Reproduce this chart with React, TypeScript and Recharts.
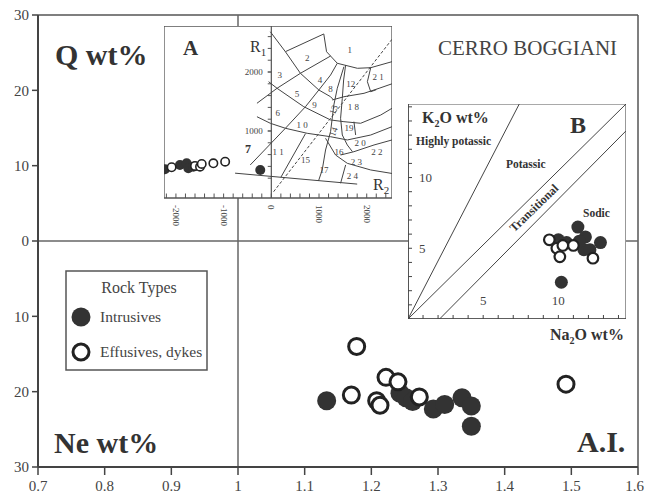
import {
  ScatterChart,
  Scatter,
  XAxis,
  YAxis,
  ReferenceLine,
  ReferenceArea,
  CartesianGrid,
} from "recharts";

const FONT = '"Liberation Serif", "Times New Roman", serif';
const INK = "#333";
const EDGE = "#555";

// ---- main diagram: A.I. vs normative Q / Ne
const aiTicks = [0.7, 0.8, 0.9, 1, 1.1, 1.2, 1.3, 1.4, 1.5, 1.6];
const normTicks = [-30, -20, -10, 0, 10, 20, 30];

const intrusives = [
  { ai: 1.133, q: -21.2 },
  { ai: 1.243, q: -20.2 },
  { ai: 1.252, q: -20.8 },
  { ai: 1.262, q: -21.3 },
  { ai: 1.293, q: -22.3 },
  { ai: 1.31, q: -21.7 },
  { ai: 1.336, q: -20.8 },
  { ai: 1.35, q: -21.9 },
  { ai: 1.35, q: -24.6 },
];
const effusives = [
  { ai: 1.178, q: -14.0 },
  { ai: 1.17, q: -20.45 },
  { ai: 1.208, q: -21.2 },
  { ai: 1.213, q: -21.8 },
  { ai: 1.222, q: -18.1 },
  { ai: 1.24, q: -18.7 },
  { ai: 1.272, q: -20.7 },
  { ai: 1.492, q: -19.0 },
];

// ---- inset A: R1-R2 diagram
const r2Labelled = [-2000, -1000, 0, 1000, 2000];
const r2Minor = [-2200, -2000, -1800, -1600, -1400, -1200, -1000, -800, -600, -400, -200, 0, 200, 400, 600, 800, 1000, 1200, 1400, 1600, 1800, 2000, 2200, 2400];
const r1Minor = [200, 400, 600, 800, 1000, 1200, 1400, 1600, 1800, 2000, 2200, 2400, 2600];
const r1Labelled = [1000, 2000];

const aIntrusives = [
  { r2: -2231, r1: 351 },
  { r2: -1916, r1: 424 },
  { r2: -1775, r1: 452 },
  { r2: -1740, r1: 368 },
  { r2: -1636, r1: 395 },
  { r2: -232, r1: 339 },
];
const aEffusives = [
  { r2: -2090, r1: 385 },
  { r2: -1600, r1: 407 },
  { r2: -1495, r1: 395 },
  { r2: -1459, r1: 441 },
  { r2: -1215, r1: 452 },
  { r2: -968, r1: 480 },
];

// field boundaries, [R2, R1]
const topOfField2 = [[295, 2345], [1100, 2645]];
const bowlOfField1 = [[1100, 2645], [1158, 2344], [1383, 2148], [1804, 2063], [2084, 2073], [2530, 2175]];
const outerArc = [[-21, 2683], [295, 2344], [610, 1978], [996, 1695], [1242, 1581], [1305, 1526]];
const upperRadial = [[-301, 1470], [120, 1724], [610, 1978], [1242, 2271]];
const middleArc = [[-57, 1836], [120, 1724], [680, 1412], [1242, 1187], [1522, 1158], [1873, 1131], [2294, 1271], [2530, 1385]];
const lowerArc = [[-301, 1242], [-21, 1131], [295, 1046], [752, 961], [1242, 903], [1593, 848], [2084, 932], [2530, 1073]];
const lowerRadial = [[-442, 424], [295, 1046], [716, 1412], [996, 1695], [1242, 1949], [1383, 2148]];
const split11and15 = [[716, 955], [200, 215]];
const innerLeft = [[1522, 2090], [1383, 1724], [1311, 1441], [1242, 988], [1137, 678], [1067, 339], [989, 153]];
const innerRight = [[1558, 2119], [1516, 1865], [1488, 1554], [1452, 1215], [1488, 932], [1593, 763], [1700, 650]];
const curveOf16 = [[1137, 876], [1347, 593], [1593, 452], [2084, 339], [2530, 280]];
const split12and18 = [[1278, 1526], [1522, 1581], [1943, 1639], [2259, 1724], [2530, 1800]];
const split20and22 = [[1452, 593], [1732, 649], [2153, 763], [2530, 848]];
const edgeOf21 = [[2084, 2073], [2014, 1836], [2084, 1666], [2200, 1700]];
const edgeOf19 = [[1732, 1158], [1768, 932]];
const edgeOf24 = [[1558, 424], [1452, 114]];
const baseLine = [[-760, 285], [1800, 100]];
const dashedDiagonal = [[48, -29], [2530, 2555]];

const fieldCurves = [
  topOfField2, bowlOfField1, outerArc, upperRadial, middleArc, lowerArc, lowerRadial,
  split11and15, innerLeft, innerRight, curveOf16, split12and18, split20and22,
  edgeOf21, edgeOf19, edgeOf24, baseLine,
];

const fieldNumbers = [
  { r2: 1643, r1: 2366, n: "1" },
  { r2: 751, r1: 2243, n: "2" },
  { r2: 176, r1: 1945, n: "3" },
  { r2: 1018, r1: 1871, n: "4" },
  { r2: 540, r1: 1635, n: "5" },
  { r2: 133, r1: 1298, n: "6" },
  { r2: 1242, r1: 1720, n: "8" },
  { r2: 905, r1: 1439, n: "9" },
  { r2: 646, r1: 1101, n: "1 0" },
  { r2: 140, r1: 652, n: "1 1" },
  { r2: 1664, r1: 1804, n: "12" },
  { r2: 1305, r1: 1360, n: "13", rot: -70 },
  { r2: 1305, r1: 989, n: "14", rot: -70 },
  { r2: 716, r1: 511, n: "15" },
  { r2: 1418, r1: 652, n: "16" },
  { r2: 1102, r1: 343, n: "17" },
  { r2: 1720, r1: 1399, n: "1 8" },
  { r2: 1628, r1: 1045, n: "19" },
  { r2: 1860, r1: 804, n: "2 0" },
  { r2: 2240, r1: 1916, n: "2 1" },
  { r2: 2211, r1: 641, n: "2 2" },
  { r2: 1783, r1: 467, n: "2 3" },
  { r2: 1699, r1: 242, n: "2 4" },
];

// ---- inset B: K2O vs Na2O
const naTicks = [0, 1, 2, 3, 4, 5, 6, 7, 8, 9, 10, 11, 12, 13, 14];
const kTicks = [0, 1, 2, 3, 4, 5, 6, 7, 8, 9, 10, 11, 12, 13, 14, 15];
const highlyPotassicLine = [{ na: 0, k: 0 }, { na: 7.4, k: 15.2 }];
const potassicLine = [{ na: 0, k: 0 }, { na: 14.5, k: 15.2 }];
const sodicLine = [{ na: 2.1, k: 0 }, { na: 14.5, k: 13.3 }];

const bIntrusives = [
  { na: 10.2, k: 2.6 },
  { na: 11.3, k: 6.5 },
  { na: 10.0, k: 5.6 },
  { na: 10.55, k: 5.4 },
  { na: 11.8, k: 5.8 },
  { na: 11.7, k: 4.9 },
  { na: 12.1, k: 4.9 },
  { na: 12.8, k: 5.4 },
  { na: 11.4, k: 5.5 },
];
const bEffusives = [
  { na: 9.4, k: 5.6 },
  { na: 9.9, k: 5.0 },
  { na: 10.1, k: 4.4 },
  { na: 11.0, k: 5.2 },
  { na: 10.3, k: 5.2 },
  { na: 12.3, k: 4.3 },
];

const toR = (a: number[][]) => a.map(([r2, r1]) => ({ r2, r1 }));

const dot = (r: number, filled: boolean, sw = 3) => (p: any) => (
  <circle
    cx={p.cx}
    cy={p.cy}
    r={r}
    fill={filled ? INK : "#fff"}
    stroke={filled ? "none" : "#222"}
    strokeWidth={filled ? 0 : sw}
  />
);
const nothing = () => <g />;

const numberLabel = (p: any) => (
  <text
    x={p.cx}
    y={p.cy}
    textAnchor="middle"
    dominantBaseline="central"
    fontSize={9}
    fill="#444"
    stroke="none"
    fontFamily={FONT}
    transform={p.payload.rot ? `rotate(${p.payload.rot} ${p.cx} ${p.cy})` : undefined}
  >
    {p.payload.n}
  </text>
);

const r2Label = (p: any) => (
  <text
    x={p.x}
    y={p.y}
    transform={`rotate(90 ${p.x} ${p.y})`}
    dominantBaseline="central"
    fontSize={9}
    fill="#444"
    fontFamily={FONT}
  >
    {p.payload.value}
  </text>
);

// last label sits against the right edge, as in the original
const aiLabel = (p: any) => {
  const v = Math.round(p.payload.value * 10) / 10;
  const last = v === 1.6;
  return (
    <text
      x={last ? p.x + 6 : p.x}
      y={p.y + 12}
      textAnchor={last ? "end" : "middle"}
      fontSize={15}
      fill="#444"
      fontFamily={FONT}
    >
      {String(v)}
    </text>
  );
};

const bXLabel = (p: any) =>
  p.payload.value === 5 || p.payload.value === 10 ? (
    <text x={p.x} y={p.y} textAnchor="middle" fontSize={13} fill="#444" fontFamily={FONT}>
      {p.payload.value}
    </text>
  ) : (
    <g />
  );

const bYLabel = (p: any) =>
  p.payload.value === 5 || p.payload.value === 10 ? (
    <text x={p.x} y={p.y + 4.5} textAnchor="start" fontSize={13} fill="#444" fontFamily={FONT}>
      {p.payload.value}
    </text>
  ) : (
    <g />
  );

function InsetA() {
  return (
    <ScatterChart width={228} height={206} margin={{ top: 0, right: 0, bottom: 0, left: 0 }}>
      <CartesianGrid fill="#fff" horizontal={false} vertical={false} />
      <XAxis
        type="number"
        dataKey="r2"
        domain={[-2250, 2530]}
        ticks={r2Labelled}
        interval={0}
        height={34}
        axisLine={false}
        tickLine={false}
        tickSize={0}
        tickMargin={7}
        tick={r2Label}
        allowDataOverflow
      />
      <YAxis type="number" dataKey="r1" domain={[-136, 2780]} hide allowDataOverflow />
      <ReferenceArea x1={-2250} x2={2530} y1={-136} y2={2780} fill="none" fillOpacity={0} stroke={EDGE} strokeWidth={1.3} />
      <ReferenceLine x={0} stroke={EDGE} strokeWidth={1.2} />
      {r1Minor.map((v) => (
        <ReferenceLine key={"r1" + v} segment={[{ x: -75, y: v }, { x: 0, y: v }]} stroke={EDGE} strokeWidth={1} />
      ))}
      {r1Labelled.map((v) => (
        <ReferenceLine
          key={"r1l" + v}
          segment={[{ x: -75, y: v }, { x: 0, y: v }]}
          stroke={EDGE}
          label={{ value: String(v), position: "left", fontSize: 9, fill: "#444", fontFamily: FONT }}
        />
      ))}
      {r2Minor.map((v) => (
        <ReferenceLine key={"r2" + v} segment={[{ x: v, y: -136 }, { x: v, y: -60 }]} stroke={EDGE} strokeWidth={1} />
      ))}
      {fieldCurves.map((c, i) => (
        <Scatter
          key={"f" + i}
          data={toR(c)}
          line={{ stroke: "#444", strokeWidth: 1 }}
          shape={nothing}
          isAnimationActive={false}
        />
      ))}
      <Scatter
        data={toR(dashedDiagonal)}
        line={{ stroke: "#444", strokeWidth: 1, strokeDasharray: "3 2" }}
        shape={nothing}
        isAnimationActive={false}
      />
      <Scatter data={fieldNumbers} shape={numberLabel} isAnimationActive={false} />
      <Scatter data={aIntrusives} shape={dot(5, true)} isAnimationActive={false} />
      <Scatter data={aEffusives} shape={dot(4.2, false, 1.6)} isAnimationActive={false} />
    </ScatterChart>
  );
}

function InsetB() {
  return (
    <ScatterChart width={218} height={215} margin={{ top: 0, right: 0, bottom: 0, left: 0 }}>
      <CartesianGrid fill="#fff" horizontal={false} vertical={false} />
      <XAxis
        type="number"
        dataKey="na"
        domain={[0, 14.5]}
        ticks={naTicks}
        interval={0}
        mirror
        tickSize={4}
        tickMargin={10}
        axisLine={{ stroke: "#444", strokeWidth: 1.6 }}
        tickLine={{ stroke: "#444" }}
        tick={bXLabel}
        allowDataOverflow
      />
      <YAxis
        type="number"
        dataKey="k"
        domain={[0, 15.2]}
        ticks={kTicks}
        interval={0}
        mirror
        tickSize={4}
        tickMargin={7}
        axisLine={{ stroke: "#444", strokeWidth: 1.6 }}
        tickLine={{ stroke: "#444" }}
        tick={bYLabel}
        allowDataOverflow
      />
      <ReferenceArea x1={0} x2={14.5} y1={0} y2={15.2} fill="none" fillOpacity={0} stroke={EDGE} strokeWidth={1.2} />
      {[highlyPotassicLine, potassicLine, sodicLine].map((l, i) => (
        <Scatter key={i} data={l} line={{ stroke: "#444", strokeWidth: 1 }} shape={nothing} isAnimationActive={false} />
      ))}
      <Scatter data={bIntrusives} shape={dot(6.5, true)} isAnimationActive={false} />
      <Scatter data={bEffusives} shape={dot(5.3, false, 2.2)} isAnimationActive={false} />
    </ScatterChart>
  );
}

export default function App() {
  return (
    <div style={{ position: "absolute", left: 0, top: 0, width: 645, height: 500, background: "#fff" }}>
      <ScatterChart width={645} height={500} margin={{ top: 15, right: 7, bottom: 0, left: 0 }}>
        <XAxis
          type="number"
          dataKey="ai"
          domain={[0.7, 1.6]}
          ticks={aiTicks}
          interval={0}
          height={33}
          tickSize={8}
          tickMargin={4}
          axisLine={{ stroke: "#444", strokeWidth: 2 }}
          tickLine={{ stroke: "#444", strokeWidth: 1.5 }}
          tick={aiLabel}
          allowDataOverflow
        />
        <YAxis
          type="number"
          dataKey="q"
          domain={[-30, 30]}
          ticks={normTicks}
          interval={0}
          width={38}
          tickSize={6}
          tickMargin={3}
          axisLine={{ stroke: "#444", strokeWidth: 2 }}
          tickLine={{ stroke: "#444", strokeWidth: 1.5 }}
          tick={{ fill: "#444", fontSize: 15, fontFamily: FONT }}
          tickFormatter={(v) => String(Math.abs(v))}
          allowDataOverflow
        />
        <ReferenceLine y={30} stroke={EDGE} strokeWidth={1.5} />
        <ReferenceLine x={1.6} stroke={EDGE} strokeWidth={1.5} />
        <ReferenceLine x={1} stroke="#666" strokeWidth={1.5} />
        <ReferenceLine y={0} stroke="#666" strokeWidth={1.5} />
        <Scatter data={intrusives} shape={dot(9.5, true)} isAnimationActive={false} />
        <Scatter data={effusives} shape={dot(8, false, 3)} isAnimationActive={false} />
      </ScatterChart>

      <div style={{ position: "absolute", left: 164, top: 26 }}>
        <InsetA />
      </div>
      <div style={{ position: "absolute", left: 408, top: 104 }}>
        <InsetB />
      </div>

      <svg
        width={645}
        height={500}
        style={{ position: "absolute", left: 0, top: 0, pointerEvents: "none" }}
        fontFamily={FONT}
        fill={INK}
      >
        <text x={55} y={65} fontSize={30} fontWeight="bold">Q wt%</text>
        <text x={54} y={453} fontSize={30} fontWeight="bold">Ne wt%</text>
        <text x={577} y={452} fontSize={30} fontWeight="bold">A.I.</text>
        <text x={438} y={55} fontSize={21} fill="#444">CERRO BOGGIANI</text>

        <rect x={66} y={271} width={141} height={99} fill="#fff" stroke={EDGE} strokeWidth={1.5} />
        <text x={139} y={293} textAnchor="middle" fontSize={16} fill="#444">Rock Types</text>
        <circle cx={81} cy={317} r={9.5} fill={INK} />
        <text x={100} y={322} fontSize={15.5} fill="#444">Intrusives</text>
        <circle cx={81} cy={352} r={8} fill="#fff" stroke="#222" strokeWidth={3} />
        <text x={100} y={357} fontSize={15.5} fill="#444">Effusives, dykes</text>

        <text x={183} y={55} fontSize={21} fontWeight="bold">A</text>
        <text x={250} y={52} fontSize={16}>
          R<tspan fontSize={11} dy={4}>1</tspan>
        </text>
        <text x={373} y={190} fontSize={16}>
          R<tspan fontSize={11} dy={4}>2</tspan>
        </text>
        <text x={245} y={153} fontSize={12} fontWeight="bold">7</text>

        <text x={422} y={123} fontSize={16} fontWeight="bold">
          K<tspan fontSize={10} dy={4}>2</tspan>
          <tspan dy={-4}>O wt%</tspan>
        </text>
        <text x={570} y={133} fontSize={24} fontWeight="bold">B</text>
        <text x={416} y={145} fontSize={11.5} fontWeight="bold">Highly potassic</text>
        <text x={506} y={168} fontSize={11.5} fontWeight="bold">Potassic</text>
        <text x={583} y={217} fontSize={11.5} fontWeight="bold">Sodic</text>
        <text
          x={534}
          y={208}
          fontSize={12}
          fontWeight="bold"
          textAnchor="middle"
          dominantBaseline="central"
          transform="rotate(-44 534 208)"
        >
          Transitional
        </text>
        <text x={550} y={340} fontSize={16} fontWeight="bold">
          Na<tspan fontSize={10} dy={4}>2</tspan>
          <tspan dy={-4}>O wt%</tspan>
        </text>
      </svg>
    </div>
  );
}
